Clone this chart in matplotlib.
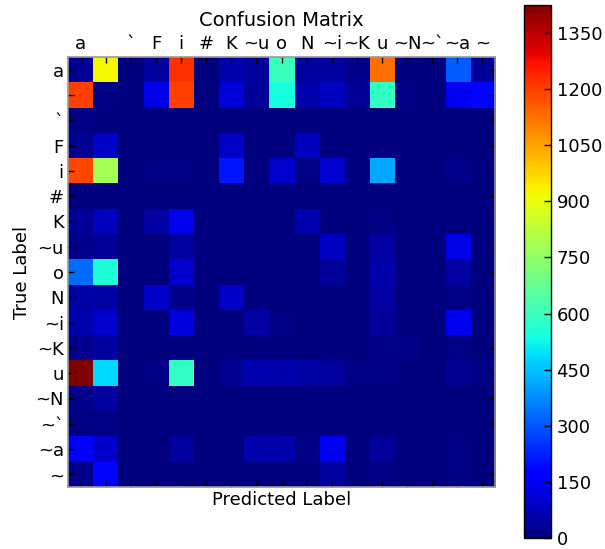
import matplotlib
matplotlib.use("Agg")
import matplotlib.pyplot as plt
import numpy as np

labels = ['a', ' ', '`', 'F', 'i', '#', 'K', '~u', 'o', 'N', '~i', '~K', 'u', '~N', '~`', '~a', '~']

counts = [
    [30, 920, 5, 40, 1220, 5, 60, 35, 600, 40, 40, 20, 1125, 5, 5, 310, 35],
    [1200, 10, 5, 130, 1200, 5, 115, 35, 540, 60, 78, 30, 590, 10, 5, 140, 185],
    [10, 5, 0, 5, 5, 0, 5, 5, 5, 5, 5, 5, 5, 5, 0, 5, 5],
    [25, 90, 0, 5, 5, 0, 90, 5, 5, 78, 5, 5, 5, 5, 0, 5, 5],
    [1190, 780, 5, 10, 10, 0, 210, 5, 95, 10, 105, 5, 415, 5, 0, 20, 5],
    [5, 5, 0, 5, 5, 0, 5, 5, 5, 5, 5, 5, 5, 5, 0, 5, 5],
    [30, 78, 5, 50, 140, 0, 5, 5, 5, 65, 5, 5, 10, 5, 0, 5, 5],
    [20, 30, 5, 5, 40, 0, 5, 5, 5, 5, 85, 5, 50, 5, 0, 130, 5],
    [330, 555, 5, 5, 95, 0, 5, 5, 5, 5, 35, 5, 60, 5, 0, 50, 5],
    [50, 50, 5, 90, 15, 0, 90, 5, 5, 5, 5, 5, 50, 5, 0, 10, 5],
    [60, 95, 5, 5, 120, 0, 5, 50, 10, 5, 5, 5, 35, 5, 0, 140, 5],
    [20, 40, 0, 5, 5, 0, 5, 5, 5, 5, 5, 5, 10, 15, 0, 10, 5],
    [1425, 480, 5, 10, 590, 5, 25, 65, 60, 45, 40, 10, 10, 5, 0, 25, 10],
    [15, 40, 0, 5, 5, 0, 5, 5, 5, 5, 5, 5, 5, 5, 0, 5, 5],
    [10, 10, 0, 5, 5, 0, 5, 5, 5, 5, 5, 5, 5, 5, 0, 5, 5],
    [180, 90, 5, 5, 40, 0, 5, 60, 60, 10, 140, 5, 35, 5, 0, 10, 5],
    [15, 185, 5, 5, 5, 0, 5, 5, 5, 5, 40, 5, 10, 5, 0, 10, 5],
]
cbar_ticks = [0, 150, 300, 450, 600, 750, 900, 1050, 1200, 1350]

cm = np.array(counts, dtype=float)

plt.rcParams['font.family'] = ['DejaVu Sans']
plt.rcParams['font.size'] = 12

fig = plt.figure(figsize=(6.05, 5.49), dpi=100)
fig.patch.set_facecolor('white')
ax = fig.add_axes([68/605, 1 - 487/549, 427/605, 430/549])
im = ax.imshow(cm, cmap='jet', interpolation='nearest', vmin=0, vmax=cm.max(), aspect='auto')

n = len(labels)
ax.set_xticks(np.arange(n))
ax.set_yticks(np.arange(n))
ax.set_xticklabels(labels, fontsize=13)
ax.set_yticklabels(labels, fontsize=13)
ax.tick_params(axis='both', direction='in', length=4, width=1, color='black',
               top=True, bottom=True, left=True, right=True,
               labeltop=True, labelbottom=False, labelleft=True, labelright=False, pad=3)
for s in ax.spines.values():
    s.set_color('#999999')
    s.set_linewidth(1.2)

ax.set_title('Confusion Matrix', fontsize=14, pad=6)
ax.set_xlabel('Predicted Label', fontsize=13, labelpad=3)
ax.set_ylabel('True Label', fontsize=13, labelpad=3)

cax = fig.add_axes([524/605, 1 - 538/549, 27/605, 533/549])
cb = fig.colorbar(im, cax=cax, ticks=cbar_ticks)
cb.ax.tick_params(direction='in', length=5, width=1, labelsize=13, pad=4)
cb.outline.set_edgecolor('black')
cb.outline.set_linewidth(1)

fig.savefig('out.png', dpi=100, facecolor='white')
